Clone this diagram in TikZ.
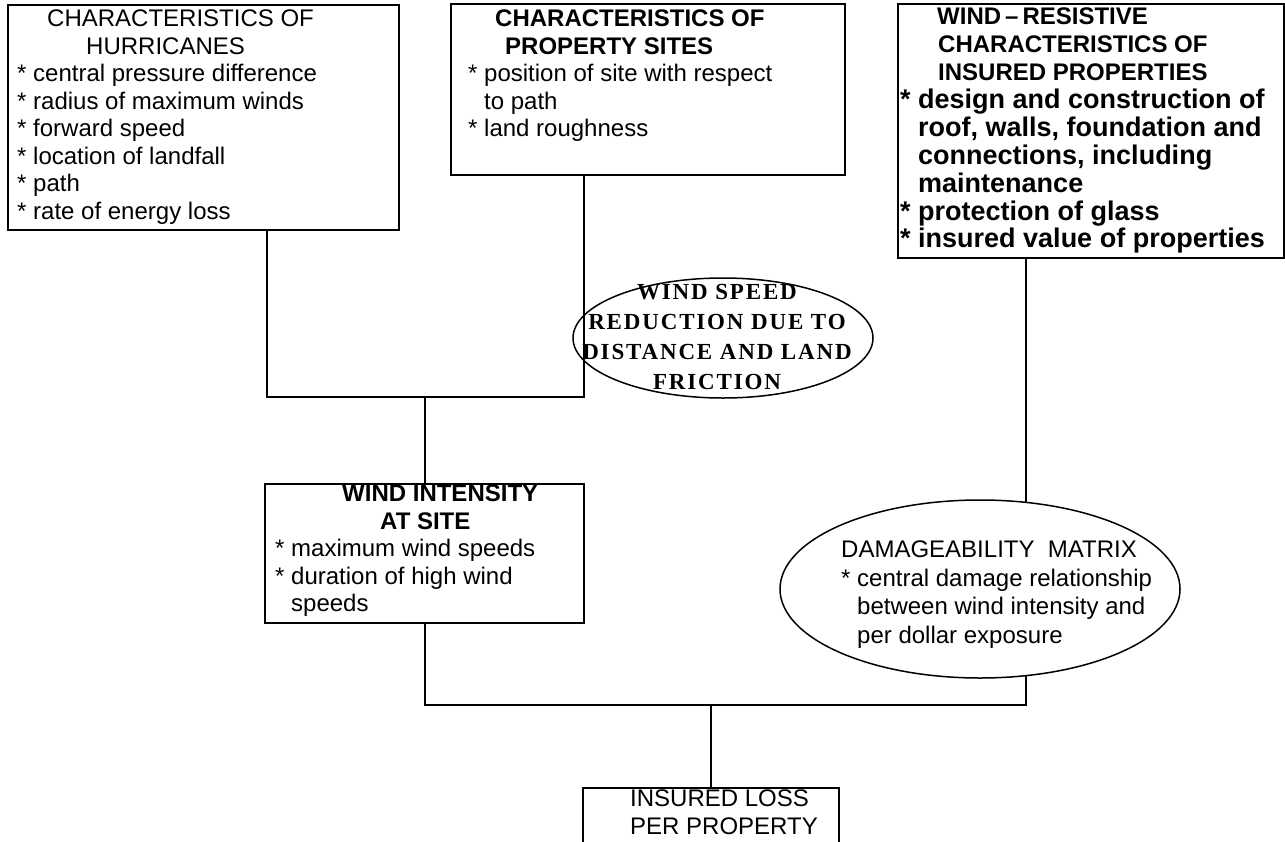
\documentclass[tikz,border=0pt]{standalone}
\usepackage{fontspec}
\setmainfont{Liberation Sans}
\newfontfamily\redfont[LetterSpace=8]{Liberation Serif}
\usetikzlibrary{shapes.geometric,backgrounds}
\newcommand\ind{\hphantom{*}\ }
\newcommand\bodyb{\fontsize{27}{27.9}\selectfont}
\begin{document}
\begin{tikzpicture}[x=1pt,y=-1pt,
  box/.style={draw, line width=1.5pt, rectangle, inner sep=0pt, anchor=north west},
  oval/.style={draw, line width=1.5pt, ellipse, inner sep=0pt},
  txt/.style={inner sep=0pt, anchor=north west, align=left, font=\fontsize{24}{27.5}\selectfont},
  conn/.style={line width=1.5pt}]
\useasboundingbox (0,0) rectangle (1285,841);

% boxes
\node[box, minimum width=391pt, minimum height=225pt] (hur) at (7,4) {};
\node[box, minimum width=394pt, minimum height=171pt] (prop) at (450,3) {};
\node[box, minimum width=386pt, minimum height=254pt] (res) at (897,3) {};
\node[box, minimum width=319pt, minimum height=139pt] (wind) at (264,483) {};
\node[box, minimum width=256pt, minimum height=90pt] (loss) at (582,787) {};
\node[oval, minimum width=300pt, minimum height=120pt] (red) at (723,338) {};
\node[oval, fill=white, minimum width=400pt, minimum height=178pt] (dmg) at (980,589) {};

% texts
\node[txt] (hurt) at (17,9.8) {\hspace*{30pt}CHARACTERISTICS OF\\
\hspace*{69pt}HURRICANES\\
* central pressure difference\\
* radius of maximum winds\\
* forward speed\\
* location of landfall\\
* path\\
* rate of energy loss};

\node[txt] (propt) at (468,9.8) {\hspace*{27pt}\textbf{CHARACTERISTICS OF}\\
\hspace*{37pt}\textbf{PROPERTY SITES}\\
* position of site with respect\\
\ind to path\\
* land roughness};

\node[txt, font=\fontsize{24}{27.9}\selectfont\bfseries] (rest) at (900,7.8) {\hspace*{37pt}WIND\,–\,RESISTIVE\\
\hspace*{38pt}CHARACTERISTICS OF\\
\hspace*{38pt}INSURED PROPERTIES\\
\bodyb * design and construction of\\
\bodyb \ind roof, walls, foundation and\\
\bodyb \ind connections, including\\
\bodyb \ind maintenance\\
\bodyb * protection of glass\\
\bodyb * insured value of properties};

\node[txt] (windt) at (275,484.8) {\hspace*{67pt}\textbf{WIND INTENSITY}\\
\hspace*{105pt}\textbf{AT SITE}\\
* maximum wind speeds\\
* duration of high wind\\
\ind speeds};

\node[txt, font=\fontsize{24}{28.5}\selectfont] (dmgt) at (841,540.8) {DAMAGEABILITY\ \ MATRIX\\
* central damage relationship\\
\ind between wind intensity and\\
\ind per dollar exposure};

\node[txt] (losst) at (630,789.8) {INSURED LOSS\\PER PROPERTY};

\node[inner sep=0pt, anchor=north, align=center,
      font=\redfont\bfseries\fontsize{23}{30}\selectfont] (redt) at (717,284)
  {WIND SPEED\\REDUCTION DUE TO\\DISTANCE AND LAND\\FRICTION};

% junctions
\coordinate (jl) at (267,397);
\coordinate (jm) at (425,397);
\coordinate (jr) at (584,397);
\coordinate (bl) at (425,705);
\coordinate (bm) at (711,705);
\coordinate (br) at (1026,705);

\begin{pgfonlayer}{background}
\draw[conn] (hur.south -| jl) -- (jl) -- (jr) -- (prop.south -| jr);
\draw[conn] (jm) -- (wind.north -| jm);
\draw[conn] (wind.south -| bl) -- (bl) -- (br) -- (res.south -| br);
\draw[conn] (bm) -- (loss.north -| bm);
\end{pgfonlayer}
\end{tikzpicture}
\end{document}
